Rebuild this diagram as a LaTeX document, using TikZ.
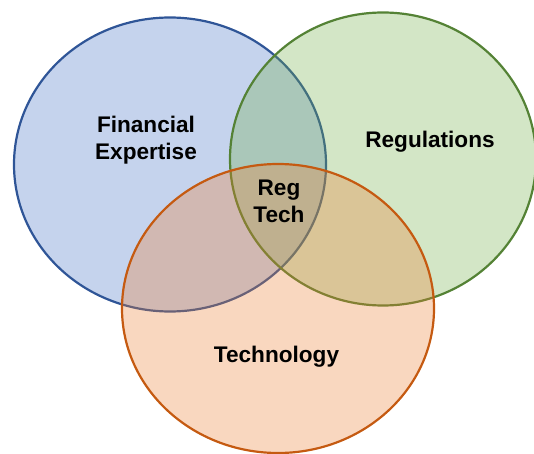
\documentclass[tikz,border=0pt]{standalone}
\usepackage{fontspec}
\setmainfont{Liberation Sans}
\definecolor{bluefill}{HTML}{4472C4}
\definecolor{blueline}{HTML}{2F5597}
\definecolor{greenfill}{HTML}{70AD47}
\definecolor{greenline}{HTML}{548235}
\definecolor{orangefill}{HTML}{ED7D31}
\definecolor{orangeline}{HTML}{C55A11}
\tikzset{
  setshape/.style={line width=2.2bp, fill opacity=0.31, draw opacity=1},
  lbl/.style={font=\bfseries\fontsize{22.6bp}{26.6bp}\selectfont, align=center, inner sep=0pt, text=black, text opacity=1}
}
\begin{document}
\begin{tikzpicture}[x=1bp,y=-1bp]
\useasboundingbox (0,0) rectangle (534,454);
\draw[setshape, draw=blueline, fill=bluefill] (170,164.5) ellipse [x radius=156, y radius=147];
\draw[setshape, draw=greenline, fill=greenfill] (383,159) ellipse [x radius=153, y radius=146.5];
\draw[setshape, draw=orangeline, fill=orangefill] (278,308.5) ellipse [x radius=156, y radius=144.5];
\node[lbl] (fin) at (146,140.1) {Financial\\Expertise};
\node[lbl, anchor=base] (reg) at (430,148) {Regulations};
\node[lbl] (rt) at (279,201.1) {Reg\\Tech};
\node[lbl, anchor=base] (tech) at (276.5,362.8) {Technology};
\end{tikzpicture}
\end{document}
